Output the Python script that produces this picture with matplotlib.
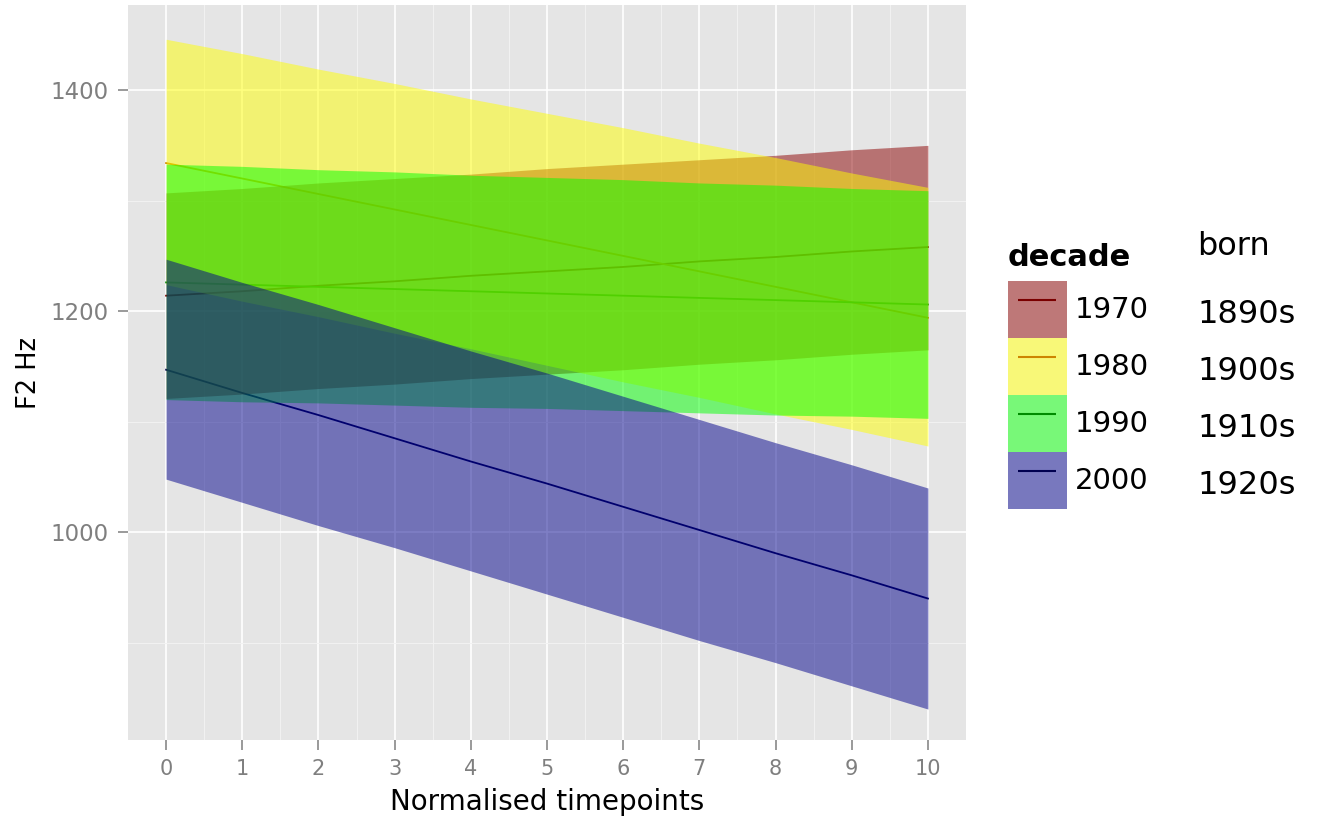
import numpy as np
import matplotlib.pyplot as plt
from matplotlib.patches import Patch
from matplotlib.lines import Line2D

plt.rcParams['font.family'] = ['DejaVu Sans']

# normalised timepoints
t = [0, 1, 2, 3, 4, 5, 6, 7, 8, 9, 10]

decades = ["1970", "1980", "1990", "2000"]
born = ["1890s", "1900s", "1910s", "1920s"]

# fitted F2 (Hz) and ribbon bounds
fit_1970 = [1214, 1218, 1223, 1227, 1232, 1236, 1240, 1245, 1249, 1254, 1258]
hi_1970 = [1307, 1311, 1316, 1320, 1324, 1329, 1333, 1337, 1341, 1346, 1350]
lo_1970 = [1121, 1125, 1130, 1134, 1139, 1143, 1147, 1152, 1156, 1161, 1165]

fit_1980 = [1334, 1320, 1306, 1292, 1278, 1264, 1250, 1236, 1222, 1208, 1194]
hi_1980 = [1446, 1433, 1419, 1406, 1392, 1379, 1366, 1352, 1339, 1325, 1312]
lo_1980 = [1224, 1209, 1195, 1180, 1166, 1151, 1136, 1122, 1107, 1093, 1078]

fit_1990 = [1226, 1224, 1222, 1220, 1218, 1216, 1214, 1212, 1210, 1208, 1206]
hi_1990 = [1333, 1331, 1328, 1326, 1323, 1321, 1319, 1316, 1314, 1311, 1309]
lo_1990 = [1120, 1118, 1117, 1115, 1113, 1112, 1110, 1108, 1106, 1105, 1103]

fit_2000 = [1147, 1126, 1106, 1085, 1064, 1044, 1023, 1002, 981, 961, 940]
hi_2000 = [1247, 1226, 1206, 1185, 1164, 1144, 1123, 1102, 1081, 1061, 1040]
lo_2000 = [1048, 1027, 1006, 986, 965, 944, 923, 902, 882, 861, 840]

fits = [fit_1970, fit_1980, fit_1990, fit_2000]
his = [hi_1970, hi_1980, hi_1990, hi_2000]
los = [lo_1970, lo_1980, lo_1990, lo_2000]

fills = ["#8B0000", "#FFFF00", "#00FF00", "#00008B"]
lines = ["#7A0000", "#CD8500", "#008B00", "#000050"]

fig = plt.figure(figsize=(13.2, 8.22), dpi=100)
ax = fig.add_axes([128 / 1320, 1 - 740 / 822, 838 / 1320, 735 / 822])
ax.set_facecolor("#E5E5E5")
for s in ax.spines.values():
    s.set_visible(False)

# lines first, then the translucent ribbons on top of them
for i in range(len(decades)):
    ax.plot(t, fits[i], color=lines[i], lw=1.3, zorder=2)
for i in range(len(decades)):
    ax.fill_between(t, los[i], his[i], color=fills[i], alpha=0.5, lw=0,
                    zorder=3)

ax.set_xlim(-0.5, 10.5)
ax.set_ylim(812, 1477)
ax.set_xticks(range(0, 11))
ax.set_xticks(np.arange(0.5, 10, 1), minor=True)
ax.set_yticks([1000, 1200, 1400])
ax.set_yticks([900, 1100, 1300], minor=True)
ax.set_axisbelow(True)
ax.grid(which="major", color="white", lw=1.2)
ax.grid(which="minor", color="#F2F2F2", lw=0.7)
ax.tick_params(which="minor", length=0)
ax.tick_params(which="major", length=7, width=1.1, color="#7F7F7F",
               labelcolor="#7F7F7F", pad=7)
ax.tick_params(axis="x", labelsize=15)
ax.tick_params(axis="y", labelsize=16.5)

ax.set_xlabel("Normalised timepoints", fontsize=20, labelpad=6)
ax.set_ylabel("F2 Hz", fontsize=18.5, labelpad=6)

handles = []
for i in range(len(decades)):
    handles.append((Patch(facecolor="#F2F2F2", lw=0),
                    Patch(facecolor=fills[i], alpha=0.5, lw=0),
                    Line2D([], [], color=lines[i], ls="none", marker="_",
                           markersize=28, markeredgewidth=1.5)))
fig.text(1008 / 1320, 1 - 257 / 822, "decade", fontsize=22,
         fontweight="bold", va="center")
leg = fig.legend(handles, decades, loc="upper left",
                 bbox_to_anchor=(1008 / 1320, 1 - 281 / 822),
                 frameon=False, fontsize=21, borderpad=0, borderaxespad=0,
                 handlelength=2.02, handleheight=2.63, labelspacing=0,
                 handletextpad=0.28, numpoints=1)

fig.text(1197 / 1320, 1 - 255 / 822, "born", fontsize=23, va="baseline")
for j, lab in enumerate(born):
    fig.text(1197 / 1320, 1 - (323 + 57 * j) / 822, lab, fontsize=23,
             va="baseline")

fig.savefig("out.png", dpi=100)
